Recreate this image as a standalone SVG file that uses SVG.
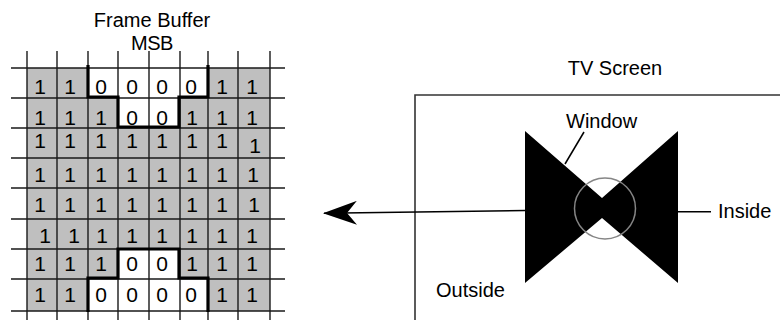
<svg xmlns="http://www.w3.org/2000/svg" width="780" height="320" viewBox="0 0 780 320">
<style>
.lbl{font-family:"Liberation Sans",Arial,sans-serif;font-size:20px;fill:#000}
.d{font-family:"Liberation Sans",Arial,sans-serif;font-size:21px;fill:#000;text-anchor:middle}
.grid{stroke:#1a1a1a;stroke-width:1.4;fill:none}
.thick{stroke:#000;stroke-width:3.2;fill:none}
.conn{stroke:#000;stroke-width:1.5;fill:none}
</style>
<defs>
<marker id="arr" markerUnits="userSpaceOnUse" viewBox="0 0 34 24" refX="33" refY="12" markerWidth="34" markerHeight="24" orient="auto">
<path d="M0,0 L34,12 L0,24 L10,12 Z" fill="#000"/>
</marker>
</defs>
<rect width="780" height="320" fill="#fff"/>
<g id="frame-buffer">
<text class="lbl" x="152" y="27" text-anchor="middle" font-size="22">Frame Buffer</text>
<text class="lbl" x="152" y="50" text-anchor="middle" font-size="19" letter-spacing="-0.5">MSB</text>
<rect x="27" y="68" width="243" height="243" fill="#bfbfbf"/>
<rect x="88" y="68" width="120" height="30" fill="#fff"/>
<rect x="118" y="98" width="62" height="30" fill="#fff"/>
<rect x="118" y="249" width="62" height="30" fill="#fff"/>
<rect x="88" y="279" width="120" height="32" fill="#fff"/>
<path class="grid" d="M11,68H285M11,98H285M11,128H285M11,158H285M11,188H285M11,219H285M11,249H285M11,279H285M11,311H285"/>
<path class="grid" d="M27,51V320M57,51V320M88,51V320M118,51V320M149,51V320M180,51V320M208,51V320M238,51V320M270,51V320"/>
<path class="thick" d="M88,65V97H118V127H179V97H208V65"/>
<path class="thick" d="M88,312V278H118V249H179V278H208V312"/>
<g>
<text class="d" x="40" y="94">1</text><text class="d" x="70" y="94">1</text><text class="d" x="101" y="94">0</text><text class="d" x="132" y="94">0</text><text class="d" x="162" y="94">0</text><text class="d" x="191" y="94">0</text><text class="d" x="222" y="94">1</text><text class="d" x="252" y="94">1</text>
<text class="d" x="40" y="125">1</text><text class="d" x="70" y="125">1</text><text class="d" x="101" y="125">1</text><text class="d" x="132" y="125">0</text><text class="d" x="162" y="125">0</text><text class="d" x="192" y="125">1</text><text class="d" x="222" y="125">1</text><text class="d" x="252" y="125">1</text>
<text class="d" x="40" y="148">1</text><text class="d" x="70" y="148">1</text><text class="d" x="101" y="148">1</text><text class="d" x="132" y="148">1</text><text class="d" x="162" y="148">1</text><text class="d" x="192" y="148">1</text><text class="d" x="222" y="148">1</text><text class="d" x="255" y="153">1</text>
<text class="d" x="40" y="182">1</text><text class="d" x="70" y="182">1</text><text class="d" x="101" y="182">1</text><text class="d" x="132" y="182">1</text><text class="d" x="162" y="182">1</text><text class="d" x="192" y="182">1</text><text class="d" x="222" y="182">1</text><text class="d" x="253" y="182">1</text>
<text class="d" x="40" y="212">1</text><text class="d" x="70" y="212">1</text><text class="d" x="101" y="212">1</text><text class="d" x="132" y="212">1</text><text class="d" x="162" y="212">1</text><text class="d" x="192" y="212">1</text><text class="d" x="222" y="212">1</text><text class="d" x="254" y="212">1</text>
<text class="d" x="45" y="243">1</text><text class="d" x="74" y="243">1</text><text class="d" x="102" y="243">1</text><text class="d" x="132" y="243">1</text><text class="d" x="162" y="243">1</text><text class="d" x="192" y="243">1</text><text class="d" x="222" y="243">1</text><text class="d" x="252" y="243">1</text>
<text class="d" x="40" y="271">1</text><text class="d" x="70" y="271">1</text><text class="d" x="101" y="271">1</text><text class="d" x="132" y="271">0</text><text class="d" x="162" y="271">0</text><text class="d" x="192" y="271">1</text><text class="d" x="222" y="271">1</text><text class="d" x="252" y="271">1</text>
<text class="d" x="40" y="302">1</text><text class="d" x="70" y="302">1</text><text class="d" x="101" y="302">0</text><text class="d" x="132" y="302">0</text><text class="d" x="162" y="302">0</text><text class="d" x="191" y="302">0</text><text class="d" x="222" y="302">1</text><text class="d" x="252" y="302">1</text>
</g>
</g>
<g id="tv-screen">
<text class="lbl" x="615" y="75" text-anchor="middle">TV Screen</text>
<path d="M415,320V95H780" fill="none" stroke="#333" stroke-width="1.6"/>
</g>
<g id="window">
<polygon points="525,131 602,198 678,131 678,283 602,218 525,283" fill="#000"/>
<circle cx="605" cy="208.5" r="30.5" fill="none" stroke="#858585" stroke-width="1.5"/>
<text class="lbl" x="566" y="128">Window</text>
</g>
<g id="inside-label">
<text class="lbl" x="718" y="218">Inside</text>
</g>
<g id="outside-label">
<text class="lbl" x="436" y="297">Outside</text>
</g>
<g id="connectors">
<line class="conn" x1="525" y1="210.5" x2="324" y2="213.3" marker-end="url(#arr)"/>
<line class="conn" x1="584" y1="132" x2="565" y2="164"/>
<line class="conn" x1="678" y1="211.7" x2="711" y2="211.7"/>
</g>
</svg>
